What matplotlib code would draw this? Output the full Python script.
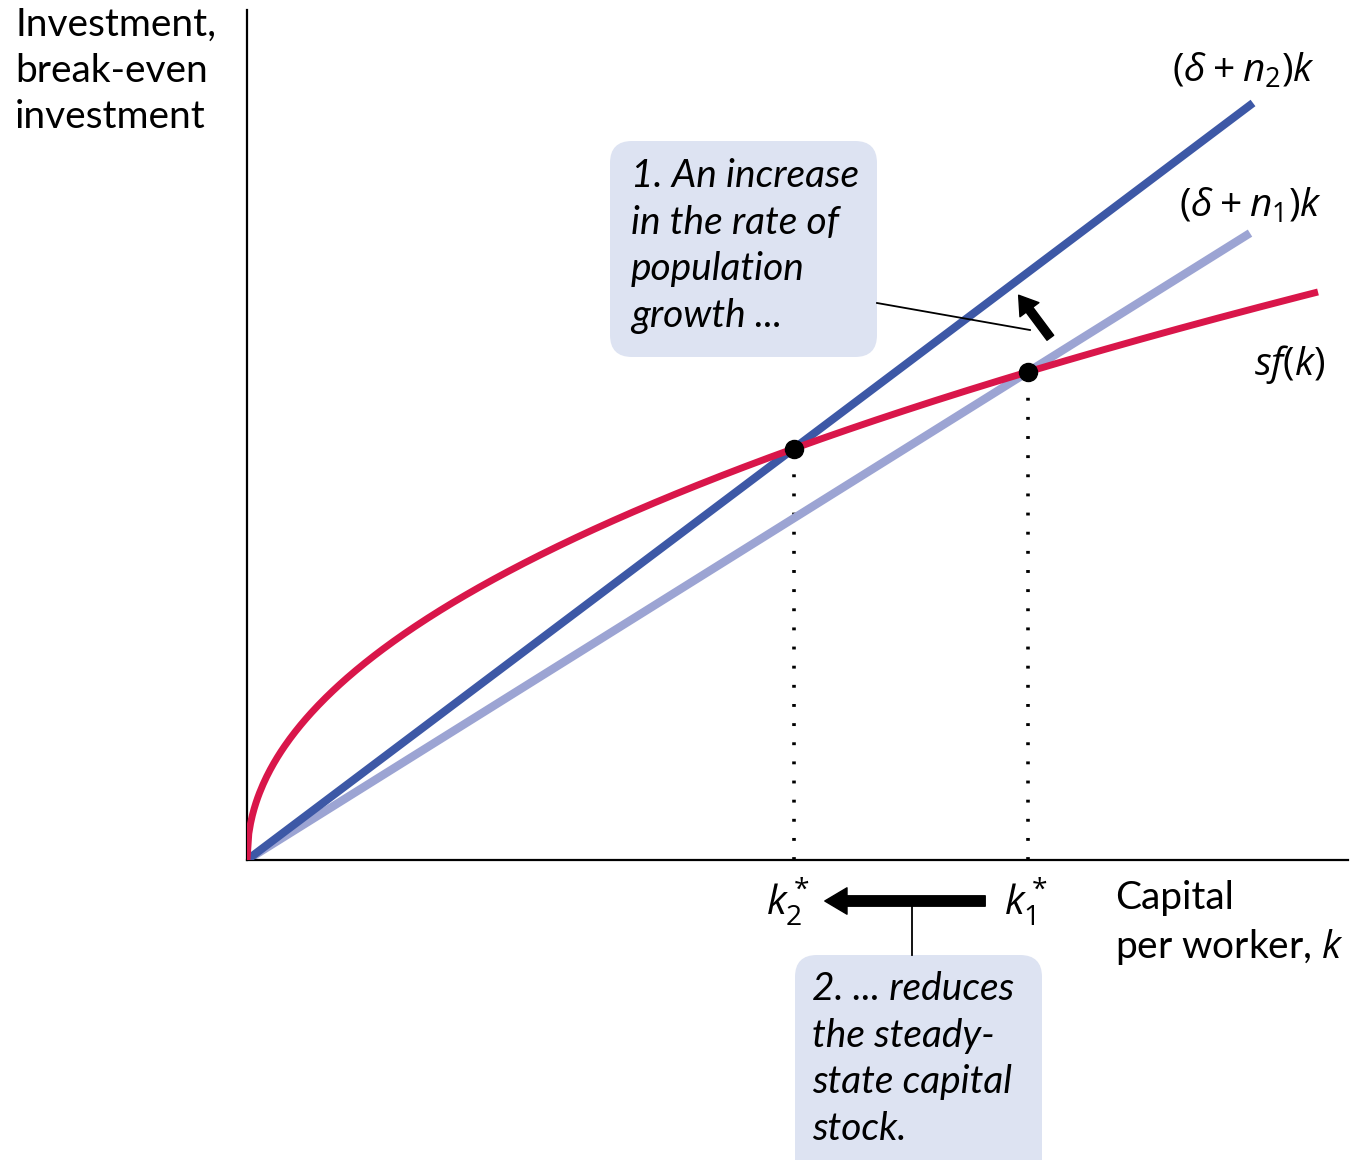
import numpy as np
import matplotlib.pyplot as plt
from matplotlib.patches import FancyBboxPatch, FancyArrowPatch

plt.rcParams['font.family'] = ['Lato', 'DejaVu Sans']
plt.rcParams['mathtext.fontset'] = 'custom'
plt.rcParams['mathtext.rm'] = 'Open Sans'
plt.rcParams['mathtext.it'] = 'Open Sans:italic'

# model (1 unit = 100 px)
s_save = 1.82          # sf(k) = s * k**alpha
alpha = 0.48
slope_n1 = 0.625       # (delta + n1)k
slope_n2 = 0.7525      # (delta + n2)k
k_end_sf = 10.71
k_end_n1 = 10.03
k_end_n2 = 10.06

red = '#d9164a'
dark_blue = '#3d58a6'
light_blue = '#9ca4d3'
box_col = '#dde3f2'

fs = 28
ls = 1.36

fig = plt.figure(figsize=(13.62, 11.6), dpi=100)
ax = fig.add_axes([247 / 1362, 300 / 1160, 1101 / 1362, 850 / 1160])
ax.set_xlim(0, 11.01)
ax.set_ylim(0, 8.5)
for sp in ['top', 'right']:
    ax.spines[sp].set_visible(False)
for sp in ['left', 'bottom']:
    ax.spines[sp].set_linewidth(1.6)
ax.set_xticks([])
ax.set_yticks([])

k = np.linspace(0, k_end_sf, 600)
ax.plot([0, k_end_n1], [0, slope_n1 * k_end_n1], color=light_blue, lw=6, solid_capstyle='butt', zorder=2)
ax.plot([0, k_end_n2], [0, slope_n2 * k_end_n2], color=dark_blue, lw=5.8, solid_capstyle='butt', zorder=3)
ax.plot(k, s_save * k ** alpha, color=red, lw=5, solid_capstyle='butt', zorder=4)

# steady states
k1 = (s_save / slope_n1) ** (1 / (1 - alpha))
k2 = (s_save / slope_n2) ** (1 / (1 - alpha))
for kk in [k1, k2]:
    yy = s_save * kk ** alpha
    ax.plot([kk, kk], [0, yy], color='black', lw=2.6, linestyle=(0, (0.8, 4.5)), zorder=1)
    ax.plot(kk, yy, 'o', color='black', ms=13, zorder=6)

# curve labels
ax.text(10.68, 7.9, r'$(\delta\:+\:n_2)k$', fontsize=fs, ha='right', va='center')
ax.text(10.75, 6.55, r'$(\delta\:+\:n_1)k$', fontsize=fs, ha='right', va='center')
ax.text(10.78, 4.95, r'$sf(k)$', fontsize=fs, ha='right', va='center')

# axis titles
ax.text(-2.32, 7.89, 'Investment,\nbreak-even\ninvestment', fontsize=fs, ha='left', va='center',
        linespacing=ls, clip_on=False)
ax.text(8.68, -0.635, 'Capital\nper worker, $k$', fontsize=fs, ha='left', va='center',
        linespacing=ls, clip_on=False)

# k* labels
ax.text(k2 - 0.06, -0.42, r'$k_2^*$', fontsize=29, ha='center', va='center', clip_on=False)
ax.text(k1 - 0.02, -0.42, r'$k_1^*$', fontsize=29, ha='center', va='center', clip_on=False)

# box 1
b1 = FancyBboxPatch((3.63, 5.03), 2.67, 2.16, boxstyle='round,pad=0,rounding_size=0.22',
                    fc=box_col, ec='none', zorder=1)
ax.add_patch(b1)
ax.text(3.84, 6.14, '1. An increase\nin the rate of\npopulation\ngrowth ...', fontsize=fs,
        style='italic', ha='left', va='center', linespacing=ls, zorder=7)
ax.plot([6.30, 7.83], [5.57, 5.30], color='black', lw=1.3, zorder=7)
ax.add_patch(FancyArrowPatch((8.05, 5.20), (7.70, 5.67),
                             arrowstyle='simple,tail_width=0.6,head_width=1.7,head_length=1.3',
                             mutation_scale=10, color='black', zorder=8))

# box 2
b2 = FancyBboxPatch((5.48, -3.3), 2.47, 2.35, boxstyle='round,pad=0,rounding_size=0.22',
                    fc=box_col, ec='none', zorder=1, clip_on=False)
ax.add_patch(b2)
ax.text(5.65, -1.99, '2. ... reduces\nthe steady-\nstate capital\nstock.', fontsize=fs,
        style='italic', ha='left', va='center', linespacing=ls, zorder=7, clip_on=False)
ax.plot([6.65, 6.65], [-0.41, -0.95], color='black', lw=1.3, clip_on=False)
ax.add_patch(FancyArrowPatch((7.41, -0.41), (5.75, -0.41),
                             arrowstyle='simple,tail_width=0.75,head_width=1.9,head_length=1.6',
                             mutation_scale=10, color='black', clip_on=False, zorder=8))

fig.savefig('out.png', dpi=100)
